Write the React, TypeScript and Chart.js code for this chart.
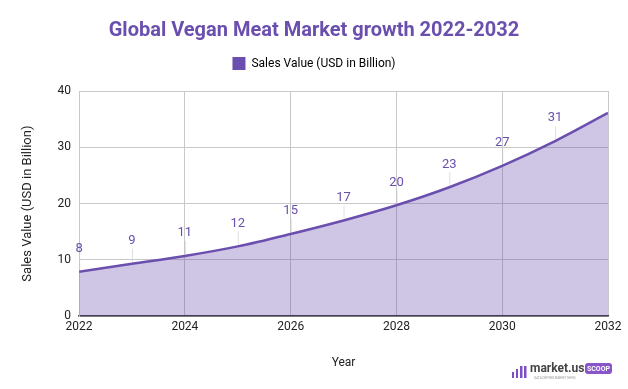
import React, { useEffect, useRef } from "react";
import { Chart, registerables } from "chart.js";

Chart.register(...registerables);

const years = [2022, 2023, 2024, 2025, 2026, 2027, 2028, 2029, 2030, 2031, 2032];
const salesValues = [7.9, 9.3, 10.7, 12.4, 14.6, 17.0, 19.7, 22.9, 26.7, 31.1, 36.1];
const yTicks = [0, 10, 20, 30, 40];
const xTicks = [2022, 2024, 2026, 2028, 2030, 2032];

const PURPLE = "#6a4fae";

const labelPlugin = {
  id: "valueLabels",
  afterDatasetsDraw(chart: any) {
    const ctx = chart.ctx;
    const meta = chart.getDatasetMeta(0);
    const area = chart.chartArea;
    ctx.save();
    ctx.font = "13px Roboto";
    ctx.textAlign = "center";
    ctx.textBaseline = "middle";
    meta.data.forEach((pt: any, i: number) => {
      const v = salesValues[i];
      const ly = pt.y - 23;
      if (ly - 8 < area.top) return;
      ctx.strokeStyle = "rgba(200,200,210,0.6)";
      ctx.lineWidth = 1;
      ctx.beginPath();
      ctx.moveTo(pt.x + 0.5, pt.y - 2);
      ctx.lineTo(pt.x + 0.5, ly + 8);
      ctx.stroke();
      ctx.fillStyle = PURPLE;
      ctx.fillText(String(Math.round(v)), pt.x, ly);
    });
    ctx.restore();
  },
};

const legendSpacePlugin = {
  id: "legendSpace",
  beforeInit(chart: any) {
    const legend = chart.legend;
    if (!legend) return;
    const orig = legend.fit;
    legend.fit = function () {
      orig.call(this);
      this.height += 11;
    };
  },
};

const logoPlugin = {
  id: "logo",
  afterDraw(chart: any) {
    const ctx = chart.ctx;
    ctx.save();
    ctx.fillStyle = "#7d4fc4";
    ctx.fillRect(512, 372, 2, 6);
    ctx.fillRect(516, 369, 2, 9);
    ctx.fillRect(520, 366, 2.5, 12);
    ctx.fillRect(524, 366, 2.5, 12);
    ctx.fillStyle = "#444";
    ctx.font = "bold 12px Roboto";
    ctx.textBaseline = "middle";
    ctx.textAlign = "left";
    ctx.fillText("market.us", 530, 369);
    ctx.fillStyle = "#8a55c9";
    const x = 585, y = 363, w = 27, h = 11, r = 3;
    ctx.beginPath();
    ctx.moveTo(x + r, y);
    ctx.arcTo(x + w, y, x + w, y + h, r);
    ctx.arcTo(x + w, y + h, x, y + h, r);
    ctx.arcTo(x, y + h, x, y, r);
    ctx.arcTo(x, y, x + w, y, r);
    ctx.fill();
    ctx.fillStyle = "#fff";
    ctx.font = "bold 7px Roboto";
    ctx.textAlign = "center";
    ctx.fillText("SCOOP", x + w / 2, y + h / 2 + 0.5);
    ctx.fillStyle = "#999";
    ctx.font = "3px Roboto";
    ctx.fillText("DATA DRIVING MARKET NEWS", 555, 378);
    ctx.restore();
  },
};

export default function App() {
  const ref = useRef<HTMLCanvasElement>(null);
  useEffect(() => {
    document.body.style.margin = "0";
    const chart = new Chart(ref.current!, {
      type: "line",
      data: {
        datasets: [
          {
            label: "Sales Value (USD in Billion)",
            data: years.map((y, i) => ({ x: y, y: salesValues[i] })),
            borderColor: PURPLE,
            backgroundColor: "rgba(106,79,174,0.32)",
            fill: "origin",
            borderWidth: 2.5,
            pointRadius: 0,
            cubicInterpolationMode: "monotone",
          },
        ],
      },
      options: {
        animation: false,
        responsive: false,
        layout: { padding: { left: 20, right: 20, top: 0, bottom: 19 } },
        plugins: {
          title: {
            display: true,
            text: "Global Vegan Meat Market growth 2022-2032",
            color: PURPLE,
            font: { family: "Roboto", size: 20, weight: "bold" },
            padding: { top: 19, bottom: 2 },
          },
          legend: {
            display: true,
            labels: {
              color: "#222",
              font: { family: "Roboto", size: 12 },
              boxWidth: 13,
              boxHeight: 13,
              padding: 12,
              generateLabels: (c: any) => [
                {
                  text: c.data.datasets[0].label,
                  fillStyle: PURPLE,
                  strokeStyle: PURPLE,
                  lineWidth: 0,
                  datasetIndex: 0,
                  hidden: false,
                },
              ],
            },
          },
          tooltip: { enabled: false },
        },
        scales: {
          x: {
            type: "linear",
            min: years[0],
            max: years[years.length - 1],
            afterBuildTicks: (axis: any) => {
              axis.ticks = xTicks.map((v) => ({ value: v }));
            },
            ticks: {
              color: "#222",
              font: { family: "Roboto", size: 12 },
              callback: (v: any) => String(v),
              maxRotation: 0,
              padding: 4,
            },
            grid: { color: "#c8c8c8", drawTicks: false },
            border: { color: "#333", width: 1.5 },
            title: {
              display: true,
              text: "Year",
              color: "#222",
              font: { family: "Roboto", size: 12 },
              padding: { top: 17, bottom: 0 },
            },
          },
          y: {
            min: 0,
            max: 40,
            afterBuildTicks: (axis: any) => {
              axis.ticks = yTicks.map((v) => ({ value: v }));
            },
            ticks: {
              color: "#222",
              font: { family: "Roboto", size: 12 },
              padding: 8,
            },
            grid: { color: "#c8c8c8", drawTicks: false },
            border: { color: "#c8c8c8" },
            title: {
              display: true,
              text: "Sales Value (USD in Billion)",
              color: "#222",
              font: { family: "Roboto", size: 13 },
              padding: { top: 0, bottom: 14 },
            },
          },
        },
      },
      plugins: [legendSpacePlugin, labelPlugin, logoPlugin],
    } as any);
    return () => chart.destroy();
  }, []);
  return <canvas ref={ref} width={628} height={389} style={{ display: "block" }} />;
}
